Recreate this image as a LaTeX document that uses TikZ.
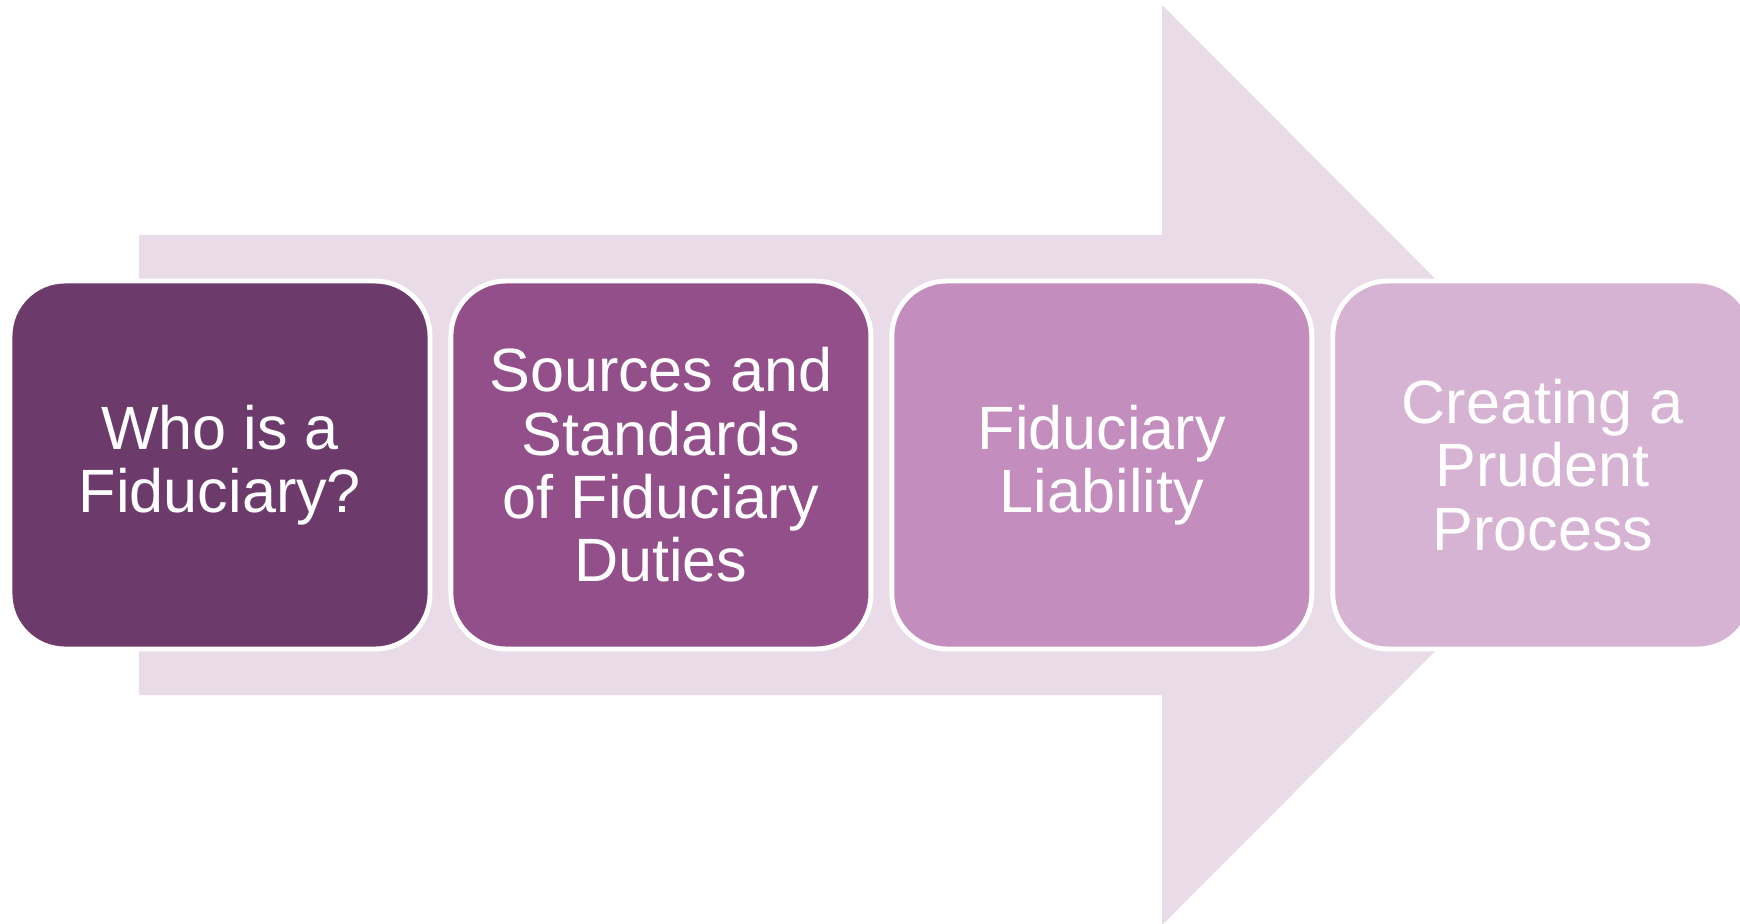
\documentclass[tikz,border=0pt]{standalone}
\usepackage{fontspec}
\setmainfont{Liberation Sans}
\usetikzlibrary{positioning}

\definecolor{arrowbg}{RGB}{234,219,233}
\definecolor{stageA}{RGB}{108,59,107}
\definecolor{stageB}{RGB}{146,79,138}
\definecolor{stageC}{RGB}{195,142,190}
\definecolor{stageD}{RGB}{215,179,211}

\begin{document}
\begin{tikzpicture}[x=0.1mm,y=-0.1mm,
    stage/.style={draw=white, line width=1.4pt, rounded corners=5.5mm,
      minimum width=42mm, minimum height=36.8mm, text=white, align=center,
      font=\fontsize{17.4}{18}\selectfont},
    node distance=1.6mm]
  \clip (0,0) rectangle (1740,923);
  % big arrow behind the stages
  \fill[arrowbg] (139,235) -- (1162,235) -- (1162,5) -- (1621,465)
    -- (1162,925) -- (1162,695) -- (139,695) -- cycle;
  \node [stage, fill=stageA] (who) at (220,465) {Who is a\\Fiduciary?};
  \node [stage, fill=stageB, right=of who] (sources) {Sources and\\Standards\\of Fiduciary\\Duties};
  \node [stage, fill=stageC, right=of sources] (liability) {Fiduciary\\Liability};
  \node [stage, fill=stageD, right=of liability] (process) {Creating a\\Prudent\\Process};
\end{tikzpicture}
\end{document}
